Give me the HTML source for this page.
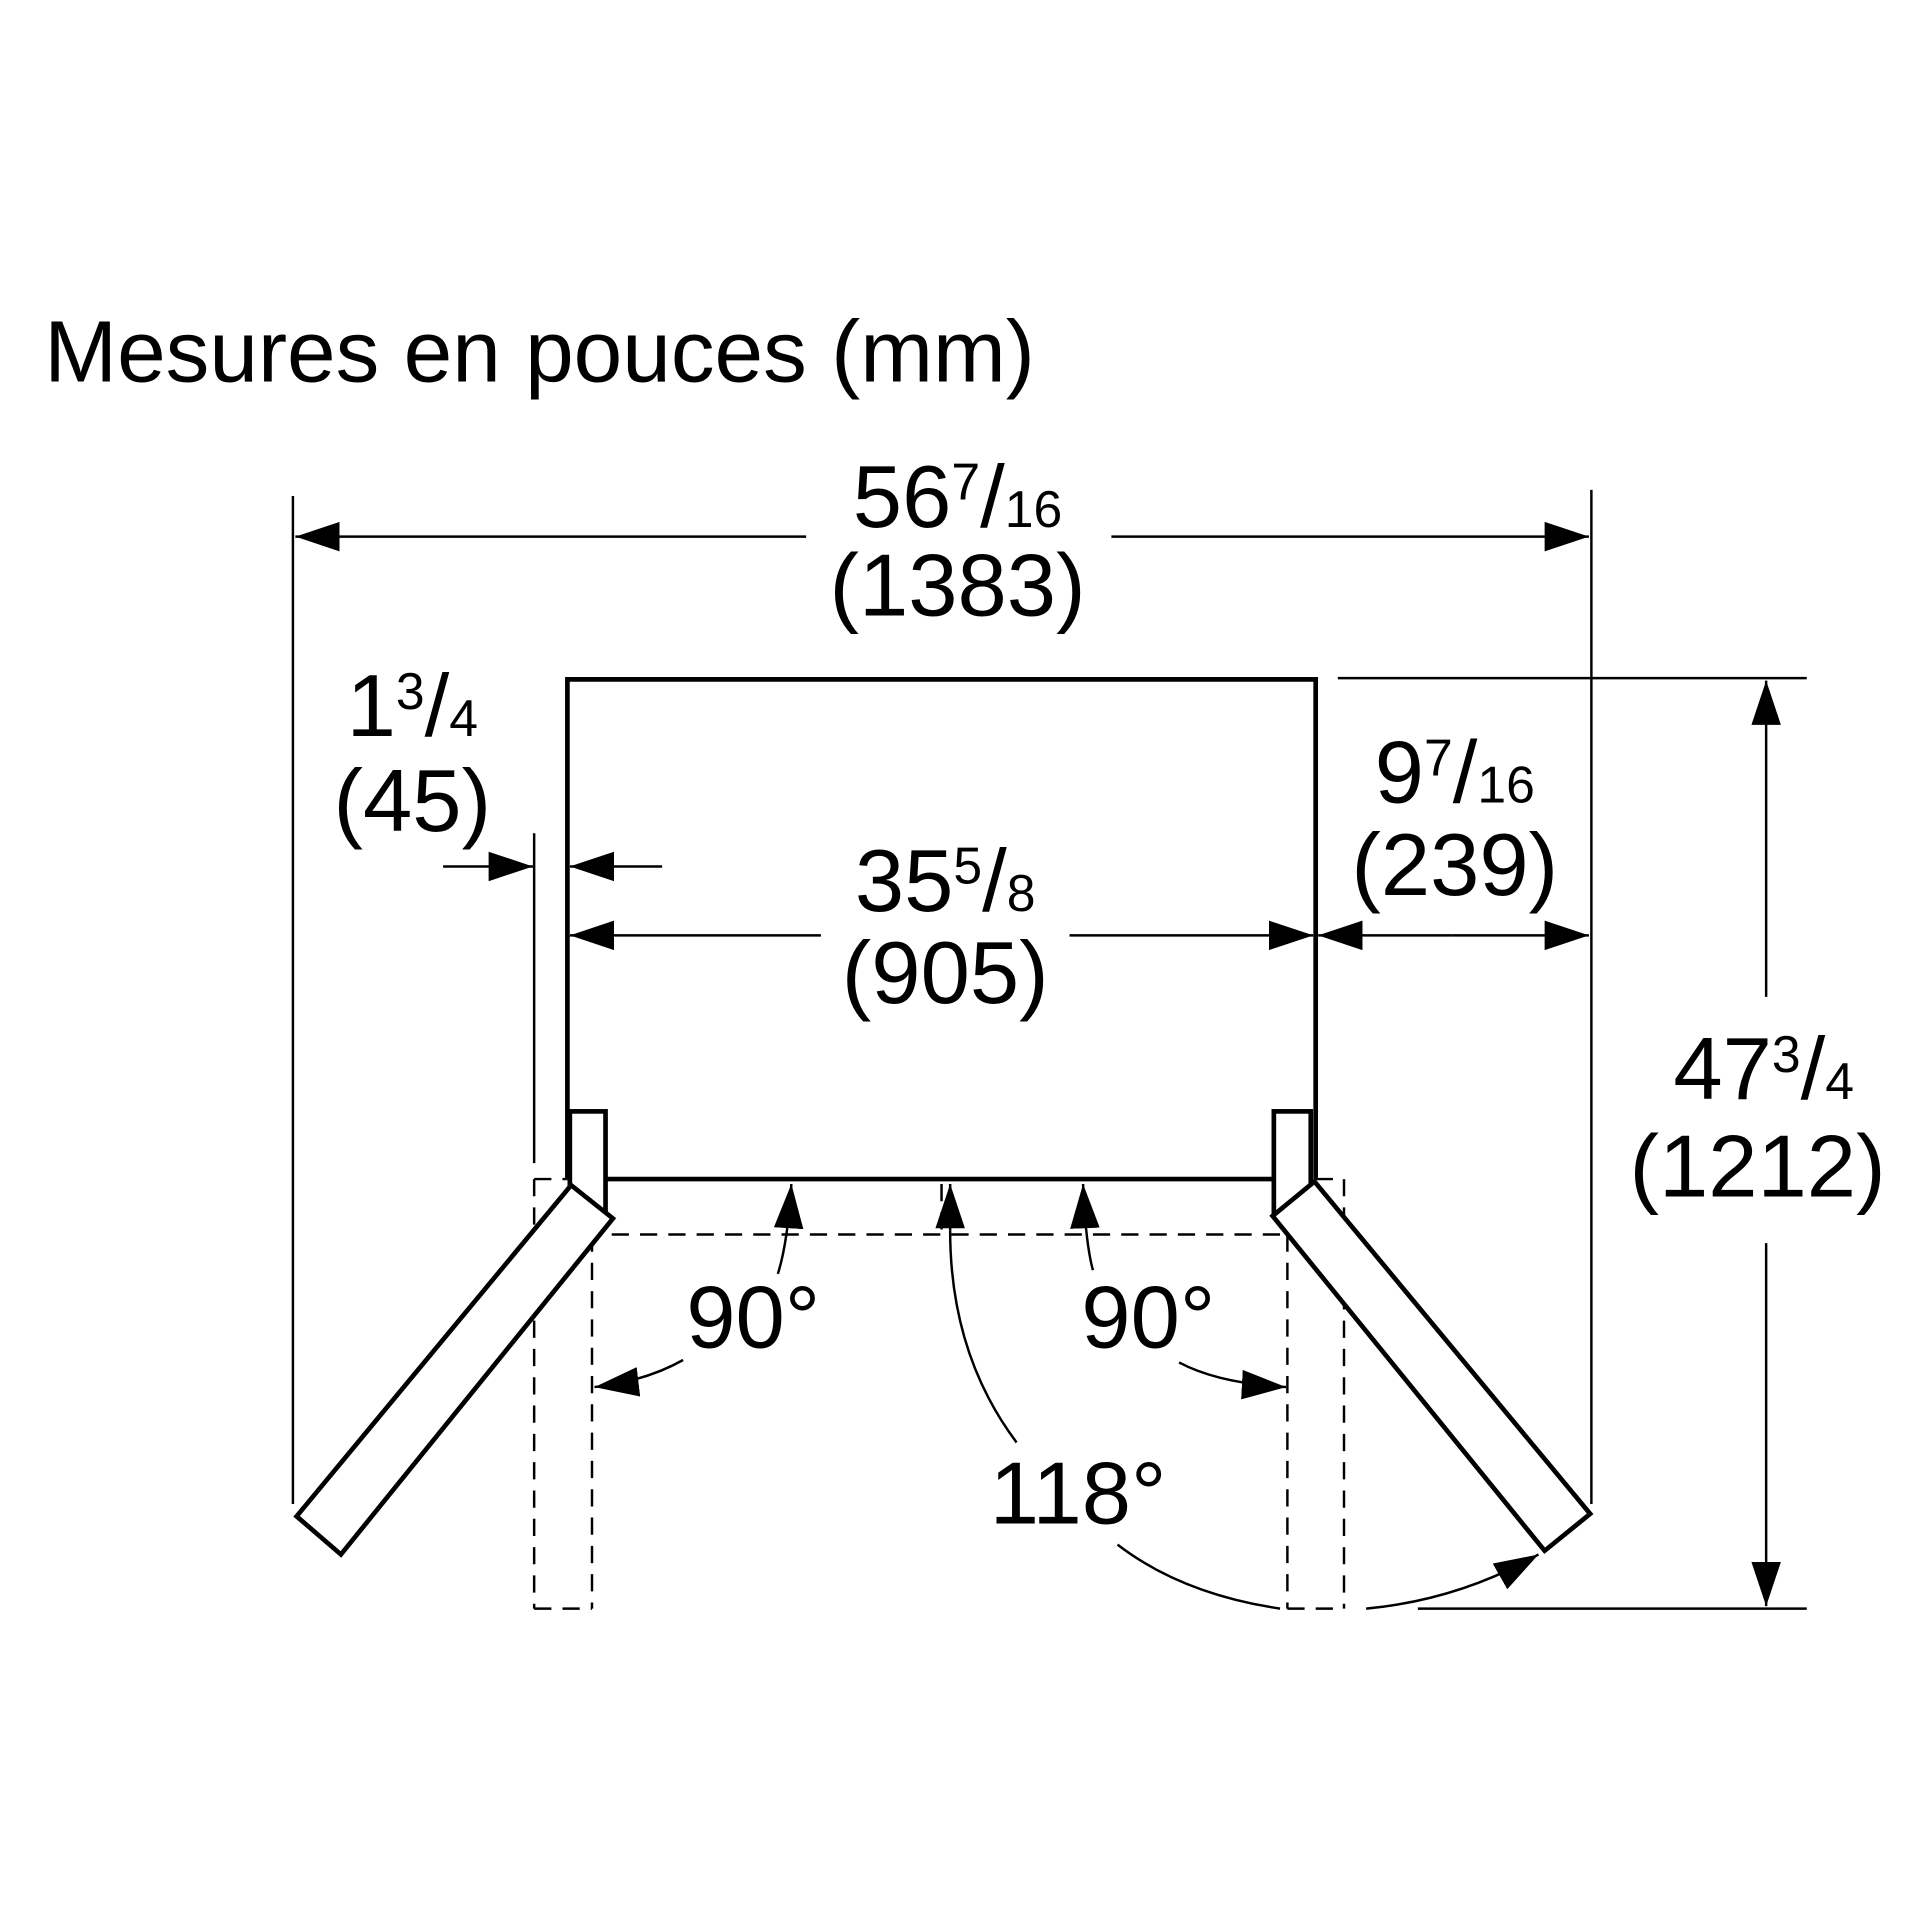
<!DOCTYPE html>
<html><head><meta charset="utf-8"><style>html,body{margin:0;padding:0;background:#fff}svg{display:block}text{font-family:"Liberation Sans",sans-serif;fill:#000}</style></head>
<body>
<svg width="1920" height="1920" viewBox="0 0 1560 1560" xmlns="http://www.w3.org/2000/svg">
<defs>
<marker id="a" viewBox="0 0 10 10" refX="10" refY="5" markerWidth="36" markerHeight="24" markerUnits="userSpaceOnUse" orient="auto" preserveAspectRatio="none"><path d="M0,0L10,5L0,10z" fill="#000"/></marker>
</defs>
<text x="36" y="310" font-size="71">Mesures en pouces (mm)</text>
<g stroke="#000" fill="none" stroke-width="2">
<line x1="238" y1="403" x2="238" y2="1222"/>
<line x1="1293" y1="398" x2="1293" y2="1222"/>
<line x1="655" y1="436" x2="240" y2="436" marker-end="url(#a)"/>
<line x1="903" y1="436" x2="1291" y2="436" marker-end="url(#a)"/>
<line x1="434" y1="677" x2="434" y2="945"/>
<line x1="360" y1="704" x2="433" y2="704" marker-end="url(#a)"/>
<line x1="538" y1="704" x2="463" y2="704" marker-end="url(#a)"/>
<line x1="667" y1="760" x2="463" y2="760" marker-end="url(#a)"/>
<line x1="869" y1="760" x2="1067" y2="760" marker-end="url(#a)"/>
<line x1="1180" y1="760" x2="1071" y2="760" marker-end="url(#a)"/>
<line x1="1180" y1="760" x2="1291" y2="760" marker-end="url(#a)"/>
<line x1="1087" y1="551" x2="1468" y2="551"/>
<line x1="1152" y1="1307" x2="1468" y2="1307"/>
<line x1="1435" y1="810" x2="1435" y2="553" marker-end="url(#a)"/>
<line x1="1435" y1="1010" x2="1435" y2="1305" marker-end="url(#a)"/>
<path d="M632,1035 Q640,1010 643,962" marker-end="url(#a)"/>
<path d="M888,1032 Q882,1010 880,962" marker-end="url(#a)"/>
<path d="M772,1000 Q772,1100 826,1172"/>
<line x1="772" y1="1000" x2="772" y2="962" marker-end="url(#a)"/>
<path d="M555,1105 Q525,1122 483,1127" marker-end="url(#a)"/>
<path d="M958,1107 Q990,1124 1045,1127" marker-end="url(#a)"/>
<path d="M908,1255 Q960,1295 1040,1307"/>
<path d="M1110,1307 Q1185,1300 1250,1263" marker-end="url(#a)"/>
</g>
<g stroke="#000" fill="none" stroke-width="2" stroke-dasharray="14,9">
<line x1="434" y1="958" x2="434" y2="1307"/>
<line x1="481" y1="1003" x2="481" y2="1307"/>
<line x1="434" y1="1307" x2="481" y2="1307"/>
<line x1="434" y1="958" x2="461" y2="958"/>
<line x1="497" y1="1003" x2="1046" y2="1003"/>
<line x1="1046" y1="1003" x2="1046" y2="1307"/>
<line x1="1092" y1="958" x2="1092" y2="1307"/>
<line x1="1046" y1="1307" x2="1092" y2="1307"/>
<line x1="1069" y1="958" x2="1092" y2="958"/>
<line x1="765" y1="962" x2="765" y2="1005"/>
</g>
<g stroke="#000" fill="#fff" stroke-width="3.8" stroke-linejoin="miter">
<polyline fill="none" points="461,958 461,552 1069,552 1069,958"/>
<line x1="492" y1="958" x2="1035" y2="958"/>
<rect x="463" y="903" width="29" height="84"/>
<rect x="1035" y="903" width="30" height="84"/>
<polygon points="464,963 498,990 277,1263 241,1232"/>
<polygon points="1068,960 1034,988 1255,1260 1292,1230"/>
</g>
<g text-anchor="middle" font-size="72">
<text x="778" y="428">56<tspan font-size="42" dy="-22">7</tspan><tspan dy="22">/</tspan><tspan font-size="42">16</tspan></text>
<text x="778" y="500">(1383)</text>
<text x="335" y="598">1<tspan font-size="42" dy="-22">3</tspan><tspan dy="22">/</tspan><tspan font-size="42">4</tspan></text>
<text x="335" y="675">(45)</text>
<text x="768" y="740">35<tspan font-size="42" dy="-22">5</tspan><tspan dy="22">/</tspan><tspan font-size="42">8</tspan></text>
<text x="768" y="815">(905)</text>
<text x="1182" y="652">9<tspan font-size="42" dy="-22">7</tspan><tspan dy="22">/</tspan><tspan font-size="42">16</tspan></text>
<text x="1182" y="727">(239)</text>
<text x="1433" y="893">47<tspan font-size="42" dy="-22">3</tspan><tspan dy="22">/</tspan><tspan font-size="42">4</tspan></text>
<text x="1428" y="972">(1212)</text>
<text x="612" y="1095">90°</text>
<text x="933" y="1095">90°</text>
<text x="876" y="1238">118°</text>
</g>
</svg>
</body></html>
